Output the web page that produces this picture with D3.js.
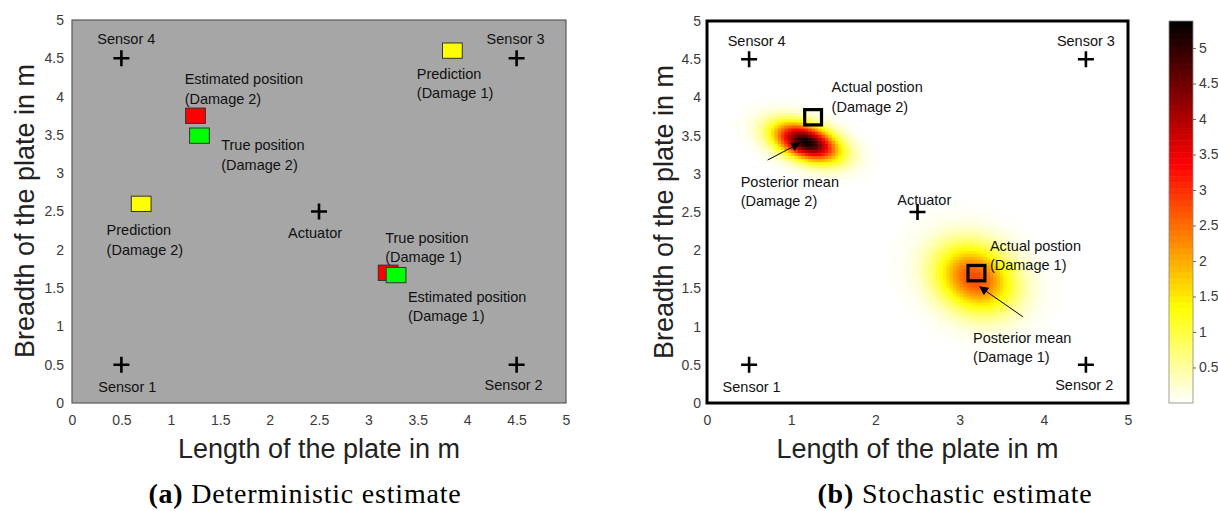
<!DOCTYPE html>
<html>
<head>
<meta charset="utf-8">
<script src="https://cdn.jsdelivr.net/npm/d3@7/dist/d3.min.js"></script>
<style>
  body { margin: 0; background: #fff; }
</style>
</head>
<body>
<svg id="fig" width="1218" height="511" font-family="'Liberation Sans', Arial, sans-serif"></svg>
<script>
// ---- data ----
var sensorNames = ['Sensor 1', 'Sensor 2', 'Sensor 3', 'Sensor 4'];
var sensorX     = [0.5, 4.5, 4.5, 0.5];
var sensorY     = [0.5, 0.5, 4.5, 4.5];
var actuatorX   = 2.5;
var actuatorY   = 2.5;

// panel (a): square markers, drawn in this order
var markerX     = [1.25, 1.29, 0.70, 3.85, 3.20, 3.28];
var markerY     = [3.75, 3.49, 2.60, 4.60, 1.70, 1.67];
var markerFill  = ['#ff0000', '#00ff00', '#ffff00', '#ffff00', '#ff0000', '#00ff00'];
var markerSize  = 0.2;

// panel (b): actual damage positions
var actualX     = [1.26, 3.20];
var actualY     = [3.74, 1.70];

// panel (b): posterior density blobs (centre, peak, spread, tilt in degrees)
var blobX       = [1.18, 3.18];
var blobY       = [3.42, 1.64];
var blobPeak    = [5.35, 2.8];
var blobSigA    = [0.27, 0.34];
var blobSigB    = [0.145, 0.28];
var blobAngle   = [-22, -40];

var axisTicksA  = d3.range(0, 5.01, 0.5);
var axisTicksBx = [0, 1, 2, 3, 4, 5];
var cbarTicks   = d3.range(0.5, 5.01, 0.5);
var cbarMax     = 5.38;

// annotations: [text lines, x, y, anchor]
var labelsA = [
    [['Sensor 4'], 0.55, 4.69, 'middle'],
    [['Sensor 3'], 4.49, 4.69, 'middle'],
    [['Sensor 1'], 0.56, 0.14, 'middle'],
    [['Sensor 2'], 4.47, 0.17, 'middle'],
    [['Actuator'], 2.46, 2.15, 'middle'],
    [['Estimated position', '(Damage 2)'], 1.14, 4.16, 'start'],
    [['True position', '(Damage 2)'], 1.51, 3.30, 'start'],
    [['Prediction', '(Damage 2)'], 0.35, 2.19, 'start'],
    [['Prediction', '(Damage 1)'], 3.49, 4.23, 'start'],
    [['True position', '(Damage 1)'], 3.17, 2.09, 'start'],
    [['Estimated position', '(Damage 1)'], 3.40, 1.32, 'start']
];
var labelsB = [
    [['Sensor 4'], 0.59, 4.67, 'middle'],
    [['Sensor 3'], 4.50, 4.67, 'middle'],
    [['Sensor 1'], 0.53, 0.14, 'middle'],
    [['Sensor 2'], 4.48, 0.17, 'middle'],
    [['Actuator'], 2.58, 2.59, 'middle'],
    [['Actual postion', '(Damage 2)'], 1.48, 4.07, 'start'],
    [['Posterior mean', '(Damage 2)'], 0.40, 2.83, 'start'],
    [['Actual postion', '(Damage 1)'], 3.36, 1.99, 'start'],
    [['Posterior mean', '(Damage 1)'], 3.16, 0.79, 'start']
];
// arrows: [x0, y0, x1, y1]
var arrowsB = [
    [0.72, 3.18, 1.10, 3.40],
    [3.75, 1.13, 3.24, 1.52]
];

var svg = d3.select('#fig');
var defs = svg.append('defs');
defs.append('marker')
    .attr('id', 'arrowHead')
    .attr('viewBox', '0 0 10 10')
    .attr('refX', 9).attr('refY', 5)
    .attr('markerUnits', 'userSpaceOnUse')
    .attr('markerWidth', 11).attr('markerHeight', 9)
    .attr('orient', 'auto')
  .append('path')
    .attr('d', 'M0,0 L10,5 L0,10 z')
    .attr('fill', '#000');

function drawLabels(g, x, y, labels, size) {
    labels.forEach(function (l) {
        var t = g.append('text')
            .attr('x', x(l[1])).attr('y', y(l[2]))
            .attr('text-anchor', l[3])
            .attr('font-size', size)
            .attr('fill', '#111');
        l[0].forEach(function (line, i) {
            t.append('tspan').attr('x', x(l[1])).attr('dy', i === 0 ? 0 : 19.5).text(line);
        });
    });
}

function drawCrosses(g, x, y) {
    var xs = sensorX.concat([actuatorX]);
    var ys = sensorY.concat([actuatorY]);
    xs.forEach(function (d, i) {
        var cx = x(d), cy = y(ys[i]);
        g.append('path')
            .attr('d', 'M' + (cx - 8) + ',' + cy + 'H' + (cx + 8) + 'M' + cx + ',' + (cy - 8) + 'V' + (cy + 8))
            .attr('stroke', '#000').attr('stroke-width', 2.6);
    });
}

function drawAxes(g, x, y, xTicks, yTicks, x0, x1, y0, y1, padY) {
    var fmt = d3.format('~g');
    g.append('g')
        .attr('transform', 'translate(0,' + y0 + ')')
        .call(d3.axisBottom(x).tickValues(xTicks).tickSize(0).tickPadding(12).tickFormat(fmt))
        .call(a => a.select('.domain').remove())
        .call(a => a.attr('font-family', null).attr('font-size', 14))
        .selectAll('text').attr('fill', '#3a3a3a');
    g.append('g')
        .attr('transform', 'translate(' + x0 + ',0)')
        .call(d3.axisLeft(y).tickValues(yTicks).tickSize(0).tickPadding(padY).tickFormat(fmt))
        .call(a => a.select('.domain').remove())
        .call(a => a.attr('font-family', null).attr('font-size', 14))
        .selectAll('text').attr('fill', '#3a3a3a');

    g.append('text')
        .attr('x', (x0 + x1) / 2).attr('y', 458)
        .attr('text-anchor', 'middle').attr('font-size', 27).attr('fill', '#222')
        .text('Length of the plate in m');
}

function caption(g, cx, tag, rest) {
    var cap = g.append('text')
        .attr('x', cx).attr('y', 503)
        .attr('text-anchor', 'middle').attr('font-size', 28)
        .attr('letter-spacing', 0.8)
        .attr('font-family', "'Liberation Serif', 'Times New Roman', serif").attr('fill', '#000');
    cap.append('tspan').attr('font-weight', 'bold').text(tag);
    cap.append('tspan').text(rest);
}

// ---------- panel (a) ----------
(function () {
    var x = d3.scaleLinear().domain([0, 5]).range([72, 566]);
    var y = d3.scaleLinear().domain([0, 5]).range([403, 20]);
    var g = svg.append('g');

    g.append('rect')
        .attr('x', x(0)).attr('y', y(5))
        .attr('width', x(5) - x(0)).attr('height', y(0) - y(5))
        .attr('fill', '#a6a6a6').attr('stroke', '#5a5a5a').attr('stroke-width', 1.2);

    drawAxes(g, x, y, axisTicksA, axisTicksA, 72, 566, 403, 20, 8);

    g.append('text')
        .attr('transform', 'translate(34,211) rotate(-90)')
        .attr('text-anchor', 'middle').attr('font-size', 27).attr('fill', '#222')
        .text('Breadth of the plate in m');

    markerX.forEach(function (d, i) {
        g.append('rect')
            .attr('x', x(d - markerSize / 2)).attr('y', y(markerY[i] + markerSize / 2))
            .attr('width', x(markerSize) - x(0)).attr('height', y(0) - y(markerSize))
            .attr('fill', markerFill[i]).attr('stroke', '#333').attr('stroke-width', 1);
    });

    drawCrosses(g, x, y);
    drawLabels(g, x, y, labelsA, 14.5);
    caption(g, 305, '(a)', ' Deterministic estimate');
})();

// ---------- panel (b) ----------
(function () {
    var x = d3.scaleLinear().domain([0, 5]).range([707, 1128]);
    var y = d3.scaleLinear().domain([0, 5]).range([403, 21]);
    var color = d3.scaleLinear()
        .domain([0, cbarMax * 0.25, cbarMax * 0.625, cbarMax])
        .range(['#ffffff', '#ffff00', '#ff0000', '#000000'])
        .clamp(true);
    var g = svg.append('g');

    // density grid
    var step = 0.04;
    var cells = [];
    d3.range(0, 5, step).forEach(function (cx) {
        d3.range(0, 5, step).forEach(function (cy) {
            var px = cx + step / 2, py = cy + step / 2, v = 0;
            blobX.forEach(function (bx, k) {
                var a = blobAngle[k] * Math.PI / 180;
                var dx = px - bx, dy = py - blobY[k];
                var u = dx * Math.cos(a) + dy * Math.sin(a);
                var w = -dx * Math.sin(a) + dy * Math.cos(a);
                v += blobPeak[k] * Math.exp(-0.5 * (u * u / (blobSigA[k] * blobSigA[k]) + w * w / (blobSigB[k] * blobSigB[k])));
            });
            if (v > 0.01) cells.push({ x: cx, y: cy, v: v });
        });
    });
    g.append('g').selectAll('rect').data(cells).join('rect')
        .attr('x', d => x(d.x))
        .attr('y', d => y(d.y + step))
        .attr('width', x(step) - x(0) + 0.6)
        .attr('height', y(0) - y(step) + 0.6)
        .attr('fill', d => color(d.v));

    g.append('rect')
        .attr('x', x(0)).attr('y', y(5))
        .attr('width', x(5) - x(0)).attr('height', y(0) - y(5))
        .attr('fill', 'none').attr('stroke', '#000').attr('stroke-width', 3);

    drawAxes(g, x, y, axisTicksBx, axisTicksA, 707, 1128, 403, 21, 6);

    g.append('text')
        .attr('transform', 'translate(673,212) rotate(-90)')
        .attr('text-anchor', 'middle').attr('font-size', 27).attr('fill', '#222')
        .text('Breadth of the plate in m');

    actualX.forEach(function (d, i) {
        g.append('rect')
            .attr('x', x(d - markerSize / 2)).attr('y', y(actualY[i] + markerSize / 2))
            .attr('width', x(markerSize) - x(0)).attr('height', y(0) - y(markerSize))
            .attr('fill', 'none').attr('stroke', '#000').attr('stroke-width', 3.2);
    });

    arrowsB.forEach(function (a) {
        g.append('line')
            .attr('x1', x(a[0])).attr('y1', y(a[1]))
            .attr('x2', x(a[2])).attr('y2', y(a[3]))
            .attr('stroke', '#000').attr('stroke-width', 1)
            .attr('marker-end', 'url(#arrowHead)');
    });

    drawCrosses(g, x, y);
    drawLabels(g, x, y, labelsB, 14.5);

    // colour bar
    var cy = d3.scaleLinear().domain([0, cbarMax]).range([403, 21]);
    var levels = d3.range(0, 64).map(i => i * cbarMax / 64);
    var cb = g.append('g');
    cb.selectAll('rect').data(levels).join('rect')
        .attr('x', 1169).attr('width', 24)
        .attr('y', d => cy(d + cbarMax / 64))
        .attr('height', d => cy(d) - cy(d + cbarMax / 64) + 0.5)
        .attr('fill', d => color(d + cbarMax / 128));
    cb.append('rect')
        .attr('x', 1169).attr('y', 21).attr('width', 24).attr('height', 382)
        .attr('fill', 'none').attr('stroke', '#888').attr('stroke-width', 0.8);
    cb.append('g')
        .attr('transform', 'translate(1193,0)')
        .call(d3.axisRight(cy).tickValues(cbarTicks).tickSize(3).tickPadding(3).tickFormat(d3.format('~g')))
        .call(a => a.select('.domain').remove())
        .call(a => a.attr('font-family', null).attr('font-size', 14))
        .call(a => a.selectAll('line').attr('stroke', '#666'))
        .selectAll('text').attr('fill', '#3a3a3a');

    caption(g, 955, '(b)', ' Stochastic estimate');
})();
</script>
</body>
</html>
